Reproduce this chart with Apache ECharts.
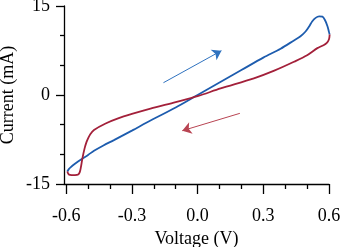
<!DOCTYPE html>
<html>
<head>
<meta charset="utf-8">
<script src="https://cdn.jsdelivr.net/npm/echarts@6/dist/echarts.min.js"></script>
<style>
html,body{margin:0;padding:0;background:#fff;}
#chart{width:340px;height:247px;}
</style>
</head>
<body>
<div id="chart"></div>
<script>
// forward sweep (blue), voltage V / current mA
var forwardSweep = [
	[-0.595,-12.9],[-0.588,-12.5],[-0.58,-12.2],[-0.56,-11.6],[-0.534,-10.9],
	[-0.5,-10.1],[-0.473,-9.4],[-0.43,-8.5],[-0.382,-7.6],[-0.3,-6.0],
	[-0.215,-4.3],[-0.1,-2.1],[0,0],[0.1,2.1],[0.2,4.2],[0.3,6.3],
	[0.379,7.8],[0.44,9.2],[0.47,9.9],[0.493,10.7],[0.51,11.6],[0.523,12.4],
	[0.539,13.0],[0.555,13.25],[0.57,13.2],[0.582,12.6],[0.593,11.6],
	[0.6,10.6],[0.603,10.2]
];
// reverse sweep (red)
var reverseSweep = [
	[0.603,10.2],[0.6,9.4],[0.59,8.8],[0.575,8.4],[0.547,7.9],[0.5,6.7],
	[0.44,5.6],[0.35,4.1],[0.257,2.8],[0.105,1.1],[0,-0.2],[-0.1,-1.2],
	[-0.215,-2.3],[-0.3,-3.2],[-0.36,-3.9],[-0.42,-4.8],[-0.473,-5.9],
	[-0.49,-6.6],[-0.5,-7.3],[-0.507,-7.9],[-0.516,-9.0],[-0.526,-10.7],
	[-0.533,-12.2],[-0.538,-13.0],[-0.545,-13.4],[-0.56,-13.5],[-0.575,-13.5],
	[-0.588,-13.4],[-0.595,-12.9]
];
// direction arrows
var arrowForward = [[-0.156,2.07],[0.109,7.47]];
var arrowReverse = [[0.193,-3.09],[-0.070,-6.02]];

var majorTicksX = [-0.6,-0.3,0,0.3,0.6];
var minorTicksX = [-0.5,-0.4,-0.2,-0.1,0.1,0.2,0.4,0.5];

var font = 'Liberation Serif';
var myChart = echarts.init(document.getElementById('chart'));
var option = {
	animation: false,
	grid: {left: 64, right: 11, top: 6, bottom: 63, outerBoundsMode: 'none'},
	xAxis: [
		{
			type: 'value', min: -0.61, max: 0.6, position: 'bottom',
			name: 'Voltage (V)', nameLocation: 'middle', nameGap: 42,
			nameTextStyle: {fontFamily: font, fontSize: 18, color: '#000'},
			axisLine: {show: true, onZero: false, lineStyle: {color: '#000', width: 1.3}},
			axisTick: {show: true, length: 10, customValues: majorTicksX, lineStyle: {color: '#000', width: 1.3}},
			axisLabel: {customValues: majorTicksX, margin: 23, fontFamily: font, fontSize: 18, color: '#000',
				align: 'center', alignMinLabel: 'center', alignMaxLabel: 'center', hideOverlap: false,
				formatter: function(v){ return v.toFixed(1); }},
			splitLine: {show: false}
		},
		{
			type: 'value', min: -0.61, max: 0.6, position: 'bottom',
			axisLine: {show: false, onZero: false},
			axisTick: {show: true, length: 5, customValues: minorTicksX, lineStyle: {color: '#000', width: 1.3}},
			axisLabel: {show: false},
			splitLine: {show: false}
		}
	],
	yAxis: {
		type: 'value', min: -15, max: 15, interval: 15,
		name: 'Current (mA)', nameLocation: 'middle', nameGap: 47, nameMoveOverlap: false,
		nameTextStyle: {fontFamily: font, fontSize: 18, color: '#000'},
		axisLine: {show: true, onZero: false, lineStyle: {color: '#000', width: 1.3}},
		axisTick: {show: true, length: 8, lineStyle: {color: '#000', width: 1.3}},
		minorTick: {show: true, splitNumber: 3, length: 4, lineStyle: {color: '#000', width: 1.3}},
		axisLabel: {margin: 14, fontFamily: font, fontSize: 18, color: '#000'},
		splitLine: {show: false}
	},
	series: [
		{
			name: 'forward', type: 'line', data: forwardSweep, smooth: 0.3,
			showSymbol: false, clip: false,
			lineStyle: {color: '#1d5cae', width: 1.8}
		},
		{
			name: 'reverse', type: 'line', data: reverseSweep, smooth: 0.3,
			showSymbol: false, clip: false,
			lineStyle: {color: '#a3203a', width: 1.8}
		},
		{
			type: 'lines', coordinateSystem: 'cartesian2d',
			symbol: ['none','arrow'], symbolSize: 9,
			data: [
				{coords: arrowForward, lineStyle: {color: '#2f72bf', width: 1, opacity: 1}},
				{coords: arrowReverse, lineStyle: {color: '#b84452', width: 1, opacity: 1}}
			]
		}
	]
};
myChart.setOption(option);
</script>
</body>
</html>
